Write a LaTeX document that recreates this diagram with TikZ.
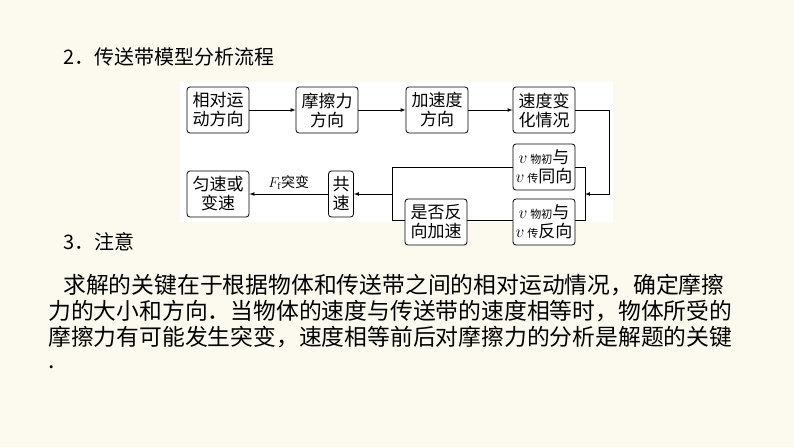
\documentclass[tikz,border=0pt]{standalone}
\usepackage{fontspec}
\setmainfont{Liberation Serif}
\newfontfamily\cjk{Noto Sans CJK SC}
\definecolor{bg}{RGB}{252,250,238}
\begin{document}
\begin{tikzpicture}[x=1pt,y=-1pt,
 box/.style={draw,rounded corners=3pt,fill=white,line width=0.8pt,minimum width=62pt,minimum height=46pt,inner sep=1pt,align=center,font=\cjk\fontsize{17}{19}\selectfont},
 arr/.style={-latex,line width=0.7pt},
 ln/.style={line width=0.7pt},
 body/.style={anchor=west,inner sep=0,font=\cjk\fontsize{22.8}{26}\selectfont}]
\fill[bg] (0,0) rectangle (794,447);
\useasboundingbox (0,0) rectangle (794,447);
\fill[white] (180,82) rectangle (613,222);
\node[body,font=\cjk\fontsize{20}{24}\selectfont] (t2) at (63,57) {2．传送带模型分析流程};
\node (b1) [box] at (218,110) {相对运\\动方向};
\node (b2) [box] at (327,110) {摩擦力\\方向};
\node (b3) [box] at (437,110) {加速度\\方向};
\node (b4) [box] at (544,110) {速度变\\化情况};
\node (r1) [box] at (218,194) {匀速或\\变速};
\node (r2) [box,minimum width=25pt] at (341,194) {共\\速};
\coordinate (lt) at (392,167); \coordinate (lb) at (392,220);
\coordinate (rt) at (585,167); \coordinate (rb) at (585,220);
\coordinate (lm) at (392,194); \coordinate (rm) at (585,194);
\coordinate (c1) at (609,110); \coordinate (c2) at (609,194);
\draw[ln] (lt)--(rt)--(rb)--(lb)--cycle;
\node (v1) [box] at (544,167) {$v$\,{\fontsize{11}{11}\selectfont 物初}与\\$v$\,{\fontsize{11}{11}\selectfont 传}同向};
\node (v2) [box] at (544,222) {$v$\,{\fontsize{11}{11}\selectfont 物初}与\\$v$\,{\fontsize{11}{11}\selectfont 传}反向};
\node (q) [box] at (436,222) {是否反\\向加速};
\draw[arr] (b1)--(b2); \draw[arr] (b2)--(b3); \draw[arr] (b3)--(b4);
\draw[arr] (b4.east)--(c1)--(c2)--(rm);
\draw[arr] (lm)--(r2.east);
\draw[arr] (r2.west)--node[above=1pt,font=\cjk\fontsize{14}{16}\selectfont]{$F_{\mathrm f}$突变}(r1.east);
\node[body,font=\cjk\fontsize{20}{24}\selectfont] (t3) at (63,242) {3．注意};
\node[body] (p1) at (63,285) {求解的关键在于根据物体和传送带之间的相对运动情况，确定摩擦};
\node[body] (p2) at (48,311) {力的大小和方向．当物体的速度与传送带的速度相等时，物体所受的};
\node[body] (p3) at (48,337) {摩擦力有可能发生突变，速度相等前后对摩擦力的分析是解题的关键};
\node[body] (p4) at (48,367) {.};
\end{tikzpicture}
\end{document}
